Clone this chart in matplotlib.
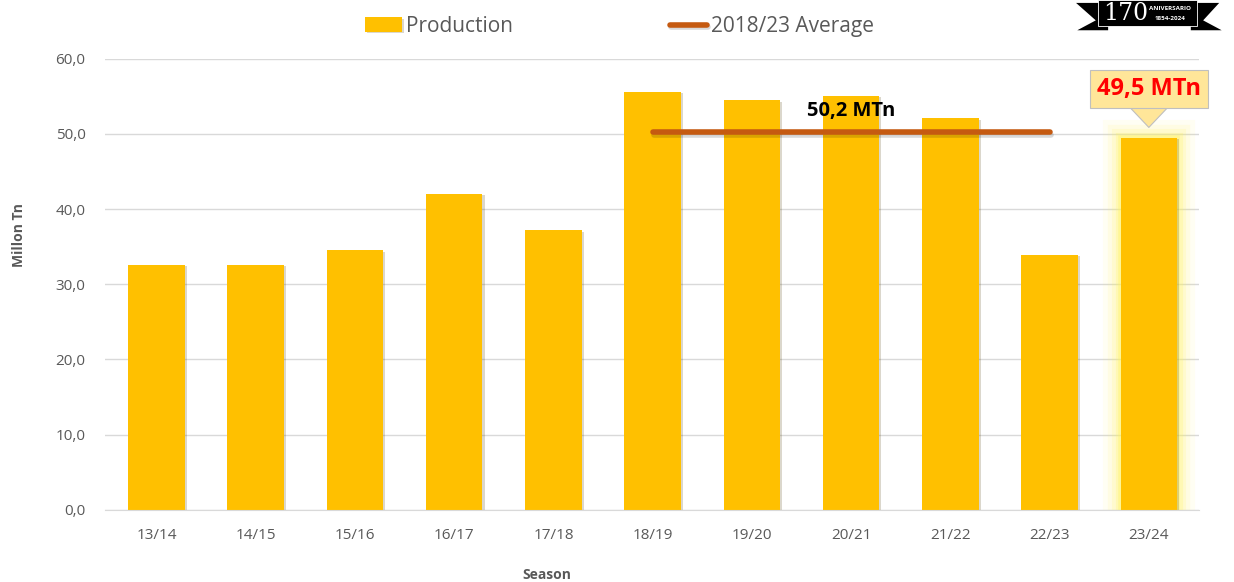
import matplotlib
matplotlib.use("Agg")
from matplotlib import pyplot as plt
from matplotlib import patheffects as pe
from matplotlib.patches import Polygon

# chart data
seasons = ["13/14", "14/15", "15/16", "16/17", "17/18", "18/19",
           "19/20", "20/21", "21/22", "22/23", "23/24"]
production = [32.6, 32.6, 34.5, 42.0, 37.2, 55.6, 54.5, 55.1, 52.1, 33.9, 49.5]
avg_seasons = ["18/19", "22/23"]
avg_value = 50.2
avg_label = "50,2 MTn"
last_label = "49,5 MTn"
yticks = [0, 10, 20, 30, 40, 50, 60]

plt.rcParams['font.family'] = ['Open Sans', 'DejaVu Sans']

bar_color = "#FFC000"
line_color = "#C55A11"
text_gray = "#595959"

fig = plt.figure(figsize=(12.34, 5.82), dpi=100)
ax = fig.add_axes([0.085, 0.124, 0.887, 0.775])

x = list(range(len(seasons)))

# glow behind the last bar
for lw, a in [(26, 0.07), (19, 0.10), (13, 0.15), (8, 0.22), (4, 0.35)]:
    ax.bar(x[-1], production[-1], width=0.57, color="none",
           edgecolor="#FFF35C", linewidth=lw, alpha=a, zorder=1)

bars = ax.bar(x, production, width=0.57, color=bar_color, zorder=2,
              label="Production")
for b in bars:
    b.set_path_effects([pe.SimplePatchShadow(offset=(1.5, -1), alpha=0.2), pe.Normal()])

i0 = seasons.index(avg_seasons[0])
i1 = seasons.index(avg_seasons[1])
avg_line, = ax.plot([i0, i1], [avg_value, avg_value], color=line_color, linewidth=4,
                    solid_capstyle="round", zorder=3, label="2018/23 Average",
                    path_effects=[pe.SimpleLineShadow(offset=(1, -1.5), alpha=0.15),
                                  pe.Normal()])
ax.text((i0 + i1) / 2, avg_value + 1.5, avg_label, ha="center", va="bottom",
        fontsize=14.5, fontweight="bold", color="black", zorder=4)

# callout for the last season
xl = x[-1]
ax.annotate("", xy=(xl, 50.5), xytext=(xl, 53.4),
            arrowprops=dict(arrowstyle="simple,head_width=3.6,head_length=1.9,tail_width=1.8",
                            facecolor="#FFE699", edgecolor="#BFBFBF", linewidth=0.8),
            zorder=5)
ax.text(xl, 56.0, last_label, ha="center", va="center", fontsize=17,
        fontweight="bold", color="#FF0000", zorder=6,
        bbox=dict(boxstyle="square,pad=0.3", facecolor="#FFE699",
                  edgecolor="#BFBFBF", linewidth=0.8))

ax.set_xlim(-0.52, len(seasons) - 0.49)
ax.set_ylim(0, 60)
ax.set_yticks(yticks)
ax.set_yticklabels([f"{v:.1f}".replace(".", ",") for v in yticks])
ax.set_xticks(x)
ax.set_xticklabels(seasons)
ax.tick_params(axis="both", length=0, labelsize=11, colors=text_gray)
ax.tick_params(axis="x", pad=13)
ax.tick_params(axis="y", pad=14)
ax.grid(axis="y", color="#D9D9D9", linewidth=1, zorder=0)
ax.set_axisbelow(True)
for s in ["top", "right", "left"]:
    ax.spines[s].set_visible(False)
ax.spines["bottom"].set_color("#D9D9D9")

ax.set_ylabel("Millon Tn", fontsize=10, fontweight="bold", color=text_gray)
ax.yaxis.set_label_coords(-0.072, 0.61)
fig.text(0.443, 0.0, "Season", fontsize=10, fontweight="bold",
         color=text_gray, ha="center", va="bottom")

fig.legend([bars, avg_line], ["Production", "2018/23 Average"],
           loc="upper center", bbox_to_anchor=(0.502, 1.005), ncol=2, frameon=False,
           fontsize=15, labelcolor=text_gray, columnspacing=7.5, handlelength=1.8,
           handletextpad=0.2)

# anniversary banner in the corner
fig.patches.append(Polygon([[0.872, 0.995], [0.888, 0.965], [0.873, 0.948],
                            [0.898, 0.948], [0.898, 0.995]],
                           closed=True, transform=fig.transFigure,
                           facecolor="black", figure=fig))
fig.patches.append(Polygon([[0.988, 0.995], [0.975, 0.965], [0.990, 0.948],
                            [0.965, 0.948], [0.965, 0.995]],
                           closed=True, transform=fig.transFigure,
                           facecolor="black", figure=fig))
fig.patches.append(plt.Rectangle((0.890, 0.955), 0.080, 0.045,
                                 transform=fig.transFigure, facecolor="black",
                                 edgecolor="white", linewidth=0.6, figure=fig))
fig.text(0.912, 0.977, "170", fontsize=17, color="white", family="DejaVu Serif",
         ha="center", va="center")
fig.text(0.948, 0.985, "ANIVERSARIO", fontsize=4.5, color="white",
         ha="center", va="center", fontweight="bold")
fig.text(0.948, 0.968, "1854-2024", fontsize=4.5, color="white",
         ha="center", va="center", fontweight="bold")

fig.savefig("out.png", dpi=100)
